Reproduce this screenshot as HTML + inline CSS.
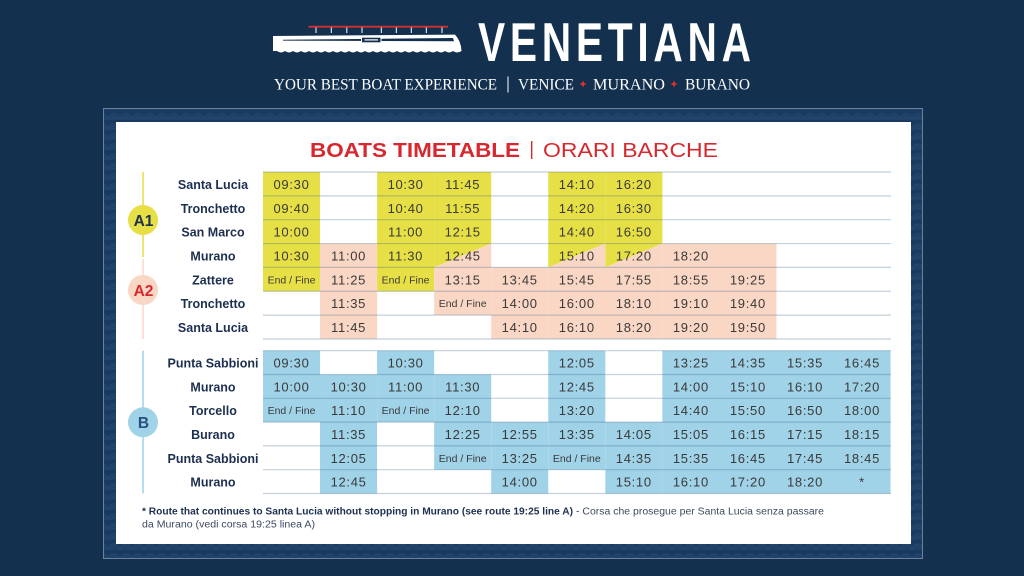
<!DOCTYPE html>
<html><head><meta charset="utf-8"><style>
html,body{margin:0;padding:0;background:#13304f;}
svg{display:block}
</style></head><body>
<svg width="1024" height="576" viewBox="0 0 1024 576" xmlns="http://www.w3.org/2000/svg">
<defs>
<pattern id="waves" width="12" height="10" patternUnits="userSpaceOnUse">
<rect width="12" height="10" fill="#1a3a60"/>
<path d="M0,10 A6,6 0 0 1 12,10 M2,10 A4,4 0 0 1 10,10 M4,10 A2,2 0 0 1 8,10" fill="none" stroke="#2b4f7a" stroke-width="0.8"/>
</pattern>
</defs>
<rect width="1024" height="576" fill="#13304f"/>

<!-- Header boat logo -->
<rect x="308.5" y="25.8" width="139.5" height="1.8" fill="#d9312f"/>
<g fill="#ffffff">
<rect x="315.5" y="27.5" width="1" height="5.5"/>
<rect x="330.8" y="27.5" width="1" height="5.5"/>
<rect x="346.3" y="27.5" width="1" height="5.5"/>
<rect x="361.5" y="27.5" width="1" height="5.5"/>
<rect x="380.8" y="27.5" width="1" height="5.5"/>
<rect x="395.8" y="27.5" width="1" height="5.5"/>
<rect x="410.8" y="27.5" width="1" height="5.5"/>
<rect x="425.8" y="27.5" width="1" height="5.5"/>
<rect x="441.5" y="27.5" width="1" height="5.5"/>
<path d="M273,36 L455,34.6 Q461,41 461.5,51 Q457,54 453,51 Q449,54 445,51 Q441,54 437,51 Q433,54 429,51 Q425,54 421,51 Q417,54 413,51 Q409,54 405,51 Q401,54 397,51 Q393,54 389,51 Q385,54 381,51 Q377,54 373,51 Q369,54 365,51 Q361,54 357,51 Q353,54 349,51 Q345,54 341,51 Q337,54 333,51 Q329,54 325,51 Q321,54 317,51 Q313,54 309,51 Q305,54 301,51 Q297,54 293,51 Q289,54 285,51 Q281,54 277,51 L273,51 Z"/>
</g>
<path d="M283,39.8 L453,38 L454,41.2 L283,40.6 Z" fill="#13304f"/>
<rect x="361.5" y="37.2" width="19.5" height="5.6" fill="#13304f" stroke="#ffffff" stroke-width="1"/>
<rect x="364.5" y="39.3" width="13.5" height="1.2" fill="#ffffff"/>

<text transform="translate(478,61) scale(0.74,1)" x="0" y="0" font-family="Liberation Sans, sans-serif" font-weight="bold" font-size="55" fill="#ffffff" textLength="369" lengthAdjust="spacing">VENETIANA</text>

<g font-family="Liberation Serif, serif" font-size="15.6" fill="#ffffff">
<text x="274" y="89.5" textLength="223" lengthAdjust="spacingAndGlyphs">YOUR BEST BOAT EXPERIENCE</text>
<text x="518" y="89.5" textLength="56" lengthAdjust="spacingAndGlyphs">VENICE</text>
<text x="593" y="89.5" textLength="72" lengthAdjust="spacingAndGlyphs">MURANO</text>
<text x="685" y="89.5" textLength="65" lengthAdjust="spacingAndGlyphs">BURANO</text>
</g>
<rect x="507.5" y="76.5" width="1" height="16" fill="#ffffff"/>
<path d="M583,80.5 L584.1,82.9 L586.5,84 L584.1,85.1 L583,87.5 L581.9,85.1 L579.5,84 L581.9,82.9 Z" fill="#e0302c"/>
<path d="M674,80.5 L675.1,82.9 L677.5,84 L675.1,85.1 L674,87.5 L672.9,85.1 L670.5,84 L672.9,82.9 Z" fill="#e0302c"/>

<!-- Frame -->
<rect x="103.5" y="108.5" width="819" height="450" fill="url(#waves)" stroke="#6c819c" stroke-width="1"/>
<rect x="116" y="122" width="795" height="422" fill="#ffffff"/>

<!-- Title -->
<text x="310" y="157" font-family="Liberation Sans, sans-serif" font-weight="bold" font-size="20" fill="#d7282f" textLength="210" lengthAdjust="spacingAndGlyphs">BOATS TIMETABLE</text>
<rect x="531" y="141" width="1.4" height="18" fill="#d7282f"/>
<text x="543" y="157" font-family="Liberation Sans, sans-serif" font-size="20" fill="#d7282f" textLength="175" lengthAdjust="spacingAndGlyphs">ORARI BARCHE</text>

<!-- A fills -->
<g fill="#e6df45">
<rect x="263" y="172" width="57.05" height="119.25"/>
<rect x="377.1" y="172" width="57.05" height="119.25"/>
<polygon points="434.15,172 491.2,172 491.2,243.55 434.15,267.4"/>
<polygon points="548.25,172 605.3,172 605.3,243.55 548.25,267.4"/>
<polygon points="605.3,172 662.35,172 662.35,243.55 605.3,267.4"/>
</g>
<g fill="#fad7c4">
<rect x="320.05" y="243.55" width="57.05" height="95.45"/>
<polygon points="491.2,243.55 491.2,267.4 434.15,267.4"/>
<rect x="434.15" y="267.4" width="57.05" height="47.7"/>
<rect x="491.2" y="267.4" width="57.05" height="71.6"/>
<polygon points="605.3,243.55 605.3,267.4 548.25,267.4"/>
<polygon points="662.35,243.55 662.35,267.4 605.3,267.4"/>
<rect x="548.25" y="267.4" width="114.1" height="71.6"/>
<rect x="662.35" y="243.55" width="114.1" height="95.45"/>
</g>

<!-- B fills -->
<g fill="#a0d2e8">
<rect x="263" y="350.7" width="57.05" height="71.4"/>
<rect x="320.05" y="374.5" width="57.05" height="119"/>
<rect x="377.1" y="350.7" width="57.05" height="71.4"/>
<rect x="434.15" y="374.5" width="57.05" height="95.2"/>
<rect x="491.2" y="422.1" width="57.05" height="71.4"/>
<rect x="548.25" y="350.7" width="57.05" height="119"/>
<rect x="605.3" y="422.1" width="57.05" height="71.4"/>
<rect x="662.35" y="350.7" width="228.2" height="142.8"/>
</g>

<!-- grid lines -->
<g stroke="rgba(60,100,140,0.3)" stroke-width="1.2">
<line x1="263" x2="891" y1="172" y2="172"/>
<line x1="263" x2="891" y1="195.85" y2="195.85"/>
<line x1="263" x2="891" y1="219.7" y2="219.7"/>
<line x1="263" x2="891" y1="243.55" y2="243.55"/>
<line x1="263" x2="891" y1="267.4" y2="267.4"/>
<line x1="263" x2="891" y1="291.25" y2="291.25"/>
<line x1="263" x2="891" y1="315.1" y2="315.1"/>
<line x1="263" x2="891" y1="339" y2="339"/>
<line x1="263" x2="891" y1="350.7" y2="350.7"/>
<line x1="263" x2="891" y1="374.5" y2="374.5"/>
<line x1="263" x2="891" y1="398.3" y2="398.3"/>
<line x1="263" x2="891" y1="422.1" y2="422.1"/>
<line x1="263" x2="891" y1="445.9" y2="445.9"/>
<line x1="263" x2="891" y1="469.7" y2="469.7"/>
<line x1="263" x2="891" y1="493.5" y2="493.5"/>
</g>

<!-- left route markers -->
<rect x="142.3" y="172" width="1.5" height="85" fill="#e6df45"/>
<rect x="142.3" y="259" width="1.5" height="80" fill="#fad7c4"/>
<rect x="142.3" y="350.7" width="1.5" height="142.8" fill="#a0d2e8"/>
<circle cx="143" cy="220" r="15" fill="#e6df45"/>
<circle cx="143" cy="290" r="15" fill="#fad7c4"/>
<circle cx="143" cy="422.3" r="15" fill="#a0d2e8"/>
<g font-family="Liberation Sans, sans-serif" font-weight="bold" font-size="15.5" text-anchor="middle">
<text x="143.5" y="225.8" fill="#1d2f50">A1</text>
<text x="143.5" y="295.8" fill="#d7282f">A2</text>
<text x="143.5" y="428" fill="#24507e">B</text>
</g>

<!-- row labels -->
<g font-family="Liberation Sans, sans-serif" font-weight="bold" font-size="12.5" fill="#1d2f50" text-anchor="middle">
<text x="213" y="188.9">Santa Lucia</text>
<text x="213" y="212.8">Tronchetto</text>
<text x="213" y="236.6">San Marco</text>
<text x="213" y="260.5">Murano</text>
<text x="213" y="284.3">Zattere</text>
<text x="213" y="308.2">Tronchetto</text>
<text x="213" y="332.1">Santa Lucia</text>
<text x="213" y="367.6">Punta Sabbioni</text>
<text x="213" y="391.4">Murano</text>
<text x="213" y="415.2">Torcello</text>
<text x="213" y="439">Burano</text>
<text x="213" y="462.8">Punta Sabbioni</text>
<text x="213" y="486.6">Murano</text>
</g>

<!-- A times -->
<g font-family="Liberation Sans, sans-serif" font-size="13" fill="#3a3a3a" text-anchor="middle" letter-spacing="0.7">
<text x="291.5" y="189">09:30</text><text x="405.6" y="189">10:30</text><text x="462.7" y="189">11:45</text><text x="576.8" y="189">14:10</text><text x="633.8" y="189">16:20</text>
<text x="291.5" y="212.8">09:40</text><text x="405.6" y="212.8">10:40</text><text x="462.7" y="212.8">11:55</text><text x="576.8" y="212.8">14:20</text><text x="633.8" y="212.8">16:30</text>
<text x="291.5" y="236.6">10:00</text><text x="405.6" y="236.6">11:00</text><text x="462.7" y="236.6">12:15</text><text x="576.8" y="236.6">14:40</text><text x="633.8" y="236.6">16:50</text>
<text x="291.5" y="260.5">10:30</text><text x="348.6" y="260.5">11:00</text><text x="405.6" y="260.5">11:30</text><text x="462.7" y="260.5">12:45</text><text x="576.8" y="260.5">15:10</text><text x="633.8" y="260.5">17:20</text><text x="690.9" y="260.5">18:20</text>
<text x="348.6" y="284.3">11:25</text><text x="462.7" y="284.3">13:15</text><text x="519.7" y="284.3">13:45</text><text x="576.8" y="284.3">15:45</text><text x="633.8" y="284.3">17:55</text><text x="690.9" y="284.3">18:55</text><text x="747.9" y="284.3">19:25</text>
<text x="348.6" y="308.2">11:35</text><text x="519.7" y="308.2">14:00</text><text x="576.8" y="308.2">16:00</text><text x="633.8" y="308.2">18:10</text><text x="690.9" y="308.2">19:10</text><text x="747.9" y="308.2">19:40</text>
<text x="348.6" y="332.1">11:45</text><text x="519.7" y="332.1">14:10</text><text x="576.8" y="332.1">16:10</text><text x="633.8" y="332.1">18:20</text><text x="690.9" y="332.1">19:20</text><text x="747.9" y="332.1">19:50</text>
</g>
<!-- B times -->
<g font-family="Liberation Sans, sans-serif" font-size="13" fill="#3a3a3a" text-anchor="middle" letter-spacing="0.7">
<text x="291.5" y="367.6">09:30</text><text x="405.6" y="367.6">10:30</text><text x="576.8" y="367.6">12:05</text><text x="690.9" y="367.6">13:25</text><text x="747.9" y="367.6">14:35</text><text x="805" y="367.6">15:35</text><text x="862" y="367.6">16:45</text>
<text x="291.5" y="391.4">10:00</text><text x="348.6" y="391.4">10:30</text><text x="405.6" y="391.4">11:00</text><text x="462.7" y="391.4">11:30</text><text x="576.8" y="391.4">12:45</text><text x="690.9" y="391.4">14:00</text><text x="747.9" y="391.4">15:10</text><text x="805" y="391.4">16:10</text><text x="862" y="391.4">17:20</text>
<text x="348.6" y="415.2">11:10</text><text x="462.7" y="415.2">12:10</text><text x="576.8" y="415.2">13:20</text><text x="690.9" y="415.2">14:40</text><text x="747.9" y="415.2">15:50</text><text x="805" y="415.2">16:50</text><text x="862" y="415.2">18:00</text>
<text x="348.6" y="439">11:35</text><text x="462.7" y="439">12:25</text><text x="519.7" y="439">12:55</text><text x="576.8" y="439">13:35</text><text x="633.8" y="439">14:05</text><text x="690.9" y="439">15:05</text><text x="747.9" y="439">16:15</text><text x="805" y="439">17:15</text><text x="862" y="439">18:15</text>
<text x="348.6" y="462.8">12:05</text><text x="519.7" y="462.8">13:25</text><text x="633.8" y="462.8">14:35</text><text x="690.9" y="462.8">15:35</text><text x="747.9" y="462.8">16:45</text><text x="805" y="462.8">17:45</text><text x="862" y="462.8">18:45</text>
<text x="348.6" y="486.6">12:45</text><text x="519.7" y="486.6">14:00</text><text x="633.8" y="486.6">15:10</text><text x="690.9" y="486.6">16:10</text><text x="747.9" y="486.6">17:20</text><text x="805" y="486.6">18:20</text><text x="862" y="486.6">*</text>
</g>
<!-- End / Fine -->
<g font-family="Liberation Sans, sans-serif" font-size="10.5" fill="#3a3a3a" text-anchor="middle">
<text x="291.5" y="283.3">End / Fine</text>
<text x="405.6" y="283.3">End / Fine</text>
<text x="462.7" y="307.2">End / Fine</text>
<text x="291.5" y="414.2">End / Fine</text>
<text x="405.6" y="414.2">End / Fine</text>
<text x="462.7" y="461.8">End / Fine</text>
<text x="576.8" y="461.8">End / Fine</text>
</g>

<!-- Footnote -->
<g font-family="Liberation Sans, sans-serif" font-size="9.8">
<text x="142" y="514.5" fill="#1d2f50" font-weight="bold" textLength="431" lengthAdjust="spacingAndGlyphs">* Route that continues to Santa Lucia without stopping in Murano (see route 19:25 line A)</text>
<text x="576" y="514.5" fill="#3d4a60" textLength="248" lengthAdjust="spacingAndGlyphs">- Corsa che prosegue per Santa Lucia senza passare</text>
<text x="142" y="527.5" fill="#3d4a60" textLength="173" lengthAdjust="spacingAndGlyphs">da Murano (vedi corsa 19:25 linea A)</text>
</g>
</svg>
</body></html>
